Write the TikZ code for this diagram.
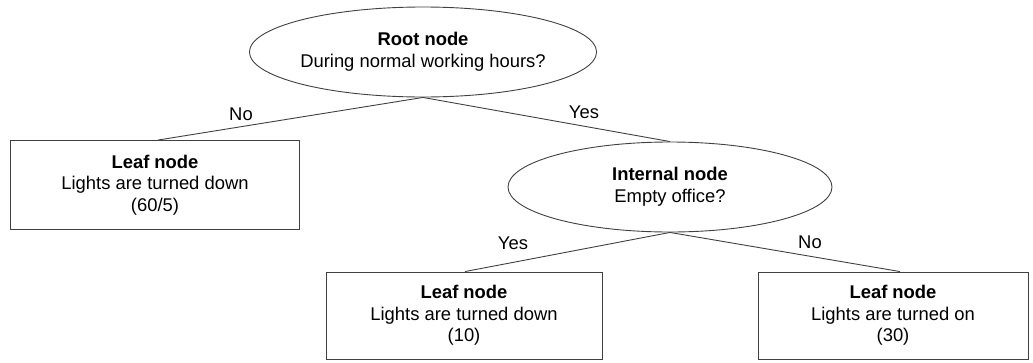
\documentclass[tikz,border=0pt]{standalone}
\usepackage{fontspec}
\setmainfont{Liberation Sans}
\usetikzlibrary{shapes.geometric}
\begin{document}
\begin{tikzpicture}[x=1pt,y=-1pt,
  every node/.style={font=\fontsize{18.4}{21.7}\selectfont, align=center, inner sep=0pt},
  decision/.style={ellipse, draw=black!75, line width=0.9pt},
  leafbox/.style={rectangle, draw=black!75, line width=0.9pt},
  branch/.style={draw=black!75, line width=0.9pt},
  answer/.style={}]
\useasboundingbox (0,0) rectangle (1033,362);

% decision nodes
\node[decision, minimum width=344pt, minimum height=90pt] (root) at (423,52)
  {\textbf{Root node}\\During normal working hours?};
\node[decision, minimum width=324pt, minimum height=90pt] (internal) at (670,187)
  {\textbf{Internal node}\\Empty office?};

% leaves
\node[leafbox, minimum width=289pt, minimum height=89pt] (leafA) at (155,185)
  {\textbf{Leaf node}\\Lights are turned down\\(60/5)};
\node[leafbox, minimum width=276pt, minimum height=87pt] (leafB) at (464,315.5)
  {\textbf{Leaf node}\\Lights are turned down\\(10)};
\node[leafbox, minimum width=270pt, minimum height=87pt] (leafC) at (893,315.5)
  {\textbf{Leaf node}\\Lights are turned on\\(30)};

% branches
\draw[branch] (root.south) -- ([xshift=3pt]leafA.north);
\draw[branch] (root.south) -- (internal.north);
\draw[branch] (internal.south) -- ([xshift=1pt]leafB.north);
\draw[branch] (internal.south) -- ([xshift=7pt]leafC.north);

% branch labels
\node[answer] (noA) at (241,114) {No};
\node[answer] (yesA) at (584,112) {Yes};
\node[answer] (yesB) at (513,243) {Yes};
\node[answer] (noB) at (810,242) {No};
\end{tikzpicture}
\end{document}
